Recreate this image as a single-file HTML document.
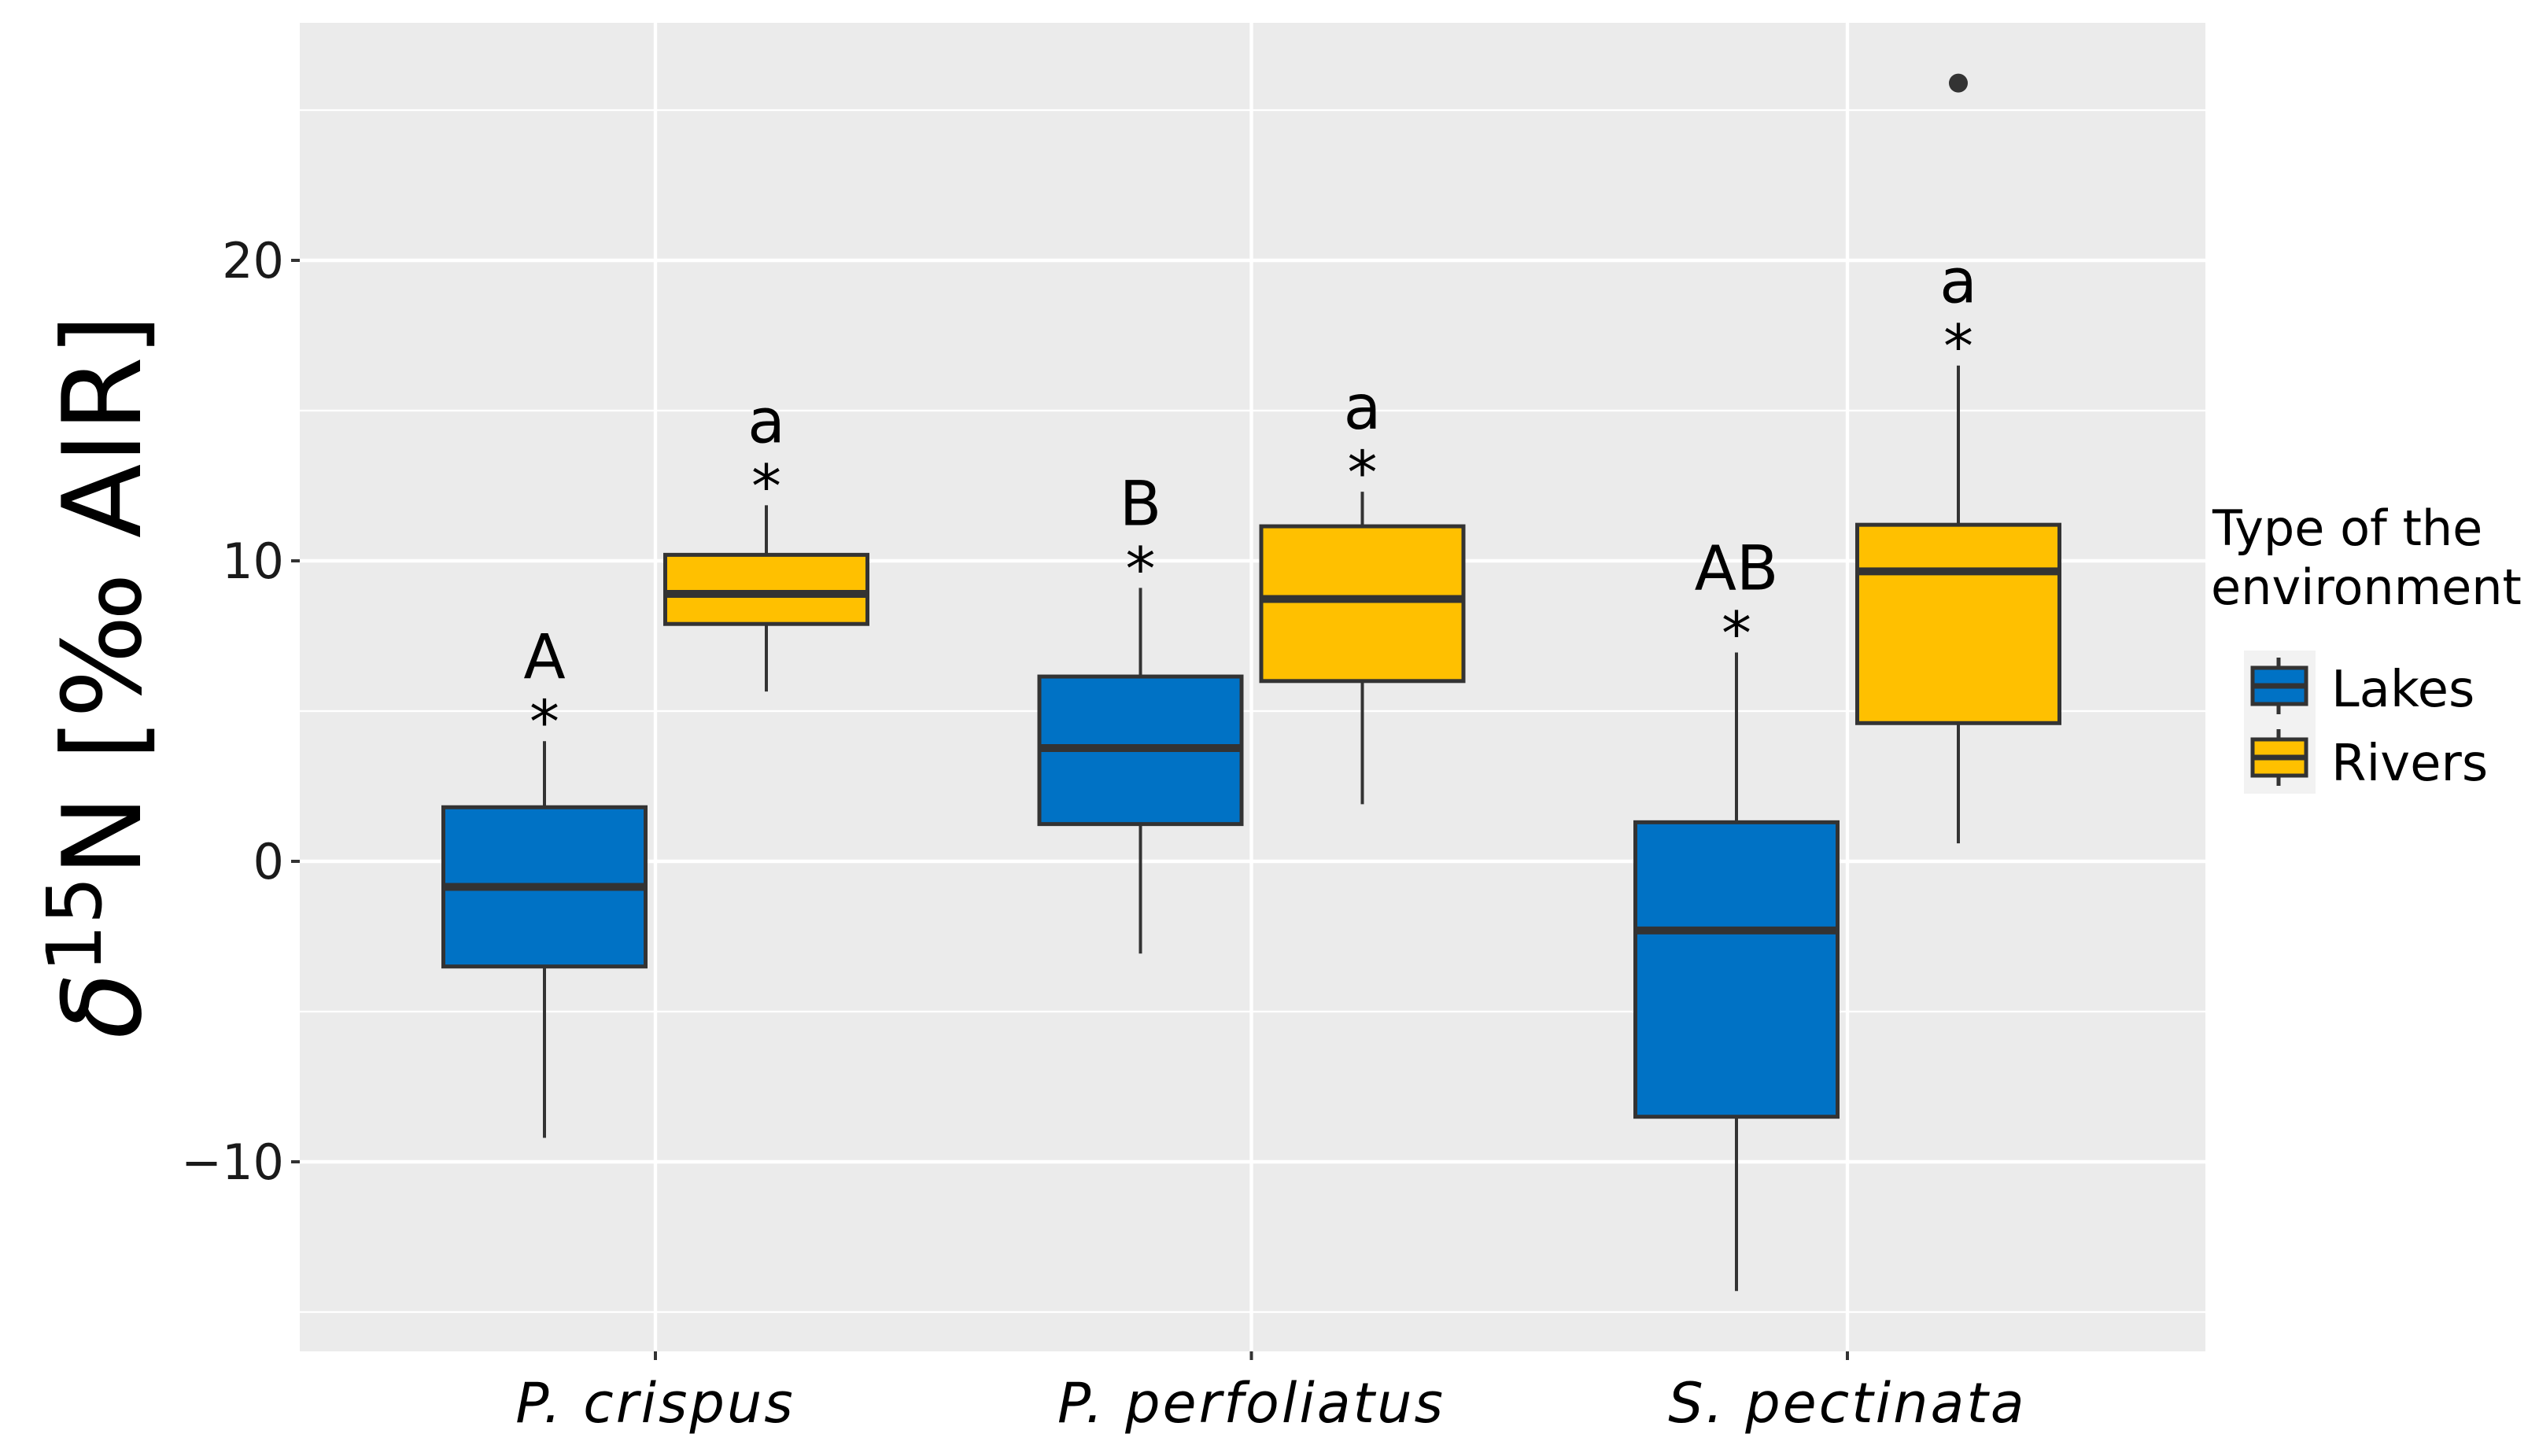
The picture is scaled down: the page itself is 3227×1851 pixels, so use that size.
<!DOCTYPE html>
<html><head><meta charset="utf-8"><style>
html,body{margin:0;padding:0;background:#fff}
svg{display:block;font-family:"DejaVu Sans","Liberation Sans",sans-serif}
</style></head><body>
<svg id="chart" width="3227" height="1851" viewBox="0 0 3227 1851" xmlns="http://www.w3.org/2000/svg">
<rect x="0" y="0" width="3227" height="1851" fill="#fff"/>
<rect x="381" y="29" width="2422" height="1689" fill="#EBEBEB"/>
<g id="grid"></g>
<g id="boxes"></g>
<g id="axes"></g>
<text transform="translate(178,860) rotate(-90)" text-anchor="middle" font-size="138" fill="#000"><tspan font-style="italic">δ</tspan><tspan dy="-50" font-size="96">15</tspan><tspan dy="50">N [‰ AIR]</tspan></text>
<g>
<text x="2812" y="693" font-size="62" fill="#000">Type of the</text>
<text x="2810" y="768" font-size="62" fill="#000">environment</text>
<rect x="2852" y="827" width="91" height="182" fill="#F2F2F2"/>
<g>
<line x1="2896" y1="836" x2="2896" y2="908" stroke="#333" stroke-width="5"/>
<rect x="2863" y="849" width="68" height="46" fill="#0072C5" stroke="#333" stroke-width="5"/>
<line x1="2863" y1="872" x2="2931" y2="872" stroke="#333" stroke-width="7"/>
<text x="2963" y="898" font-size="64" fill="#000">Lakes</text>
</g>
<g>
<line x1="2896" y1="927" x2="2896" y2="999" stroke="#333" stroke-width="5"/>
<rect x="2863" y="940" width="68" height="46" fill="#FFC000" stroke="#333" stroke-width="5"/>
<line x1="2863" y1="963" x2="2931" y2="963" stroke="#333" stroke-width="7"/>
<text x="2963" y="992" font-size="64" fill="#000">Rivers</text>
</g>
</g>
</svg>
<script>
const categories = ["P. crispus", "P. perfoliatus", "S. pectinata"];
const groups = ["Lakes", "Rivers"];
const lakesStats = [[-9.2,-3.5,-0.85,1.8,4.0],[-3.07,1.24,3.77,6.15,9.1],[-14.3,-8.5,-2.3,1.3,6.95]];
const riversStats = [[5.65,7.9,8.9,10.2,11.85],[1.9,6.0,8.73,11.15,12.3],[0.6,4.6,9.65,11.2,16.5]];
const riversOutliers = [[],[],[25.9]];
const lakesLetters = ["A","B","AB"];
const riversLetters = ["a","a","a"];
const yTicks = [-10, 0, 10, 20];
const yMinor = [-15, -5, 5, 15, 25];

const NS = "http://www.w3.org/2000/svg";
const P = {l:381, r:2803, t:29, b:1718};
const y = v => 1095 - v*38.2;
const xCat = i => 833 + i*757.5;
const dodge = 141, bw = 257;
function mk(tag, attrs, parent){const e=document.createElementNS(NS,tag);for(const k in attrs)e.setAttribute(k,attrs[k]);parent.appendChild(e);return e;}
const grid=document.getElementById('grid'), boxes=document.getElementById('boxes'), axes=document.getElementById('axes');
yMinor.forEach(v=>{const l=mk('line',{x1:P.l,x2:P.r,y1:y(v),y2:y(v),stroke:'#fff','stroke-width':2.2},grid);

});
yTicks.forEach(v=>{const l=mk('line',{x1:P.l,x2:P.r,y1:y(v),y2:y(v),stroke:'#fff','stroke-width':4.4},grid);


const t=mk('line',{x1:P.l-11,x2:P.l,y1:y(v),y2:y(v),stroke:'#333','stroke-width':4},axes);


const tx=mk('text',{x:P.l-20,y:y(v)+22,'text-anchor':'end','font-size':62,fill:'#1a1a1a'},axes);
tx.textContent=v<0?'\u2212'+Math.abs(v):String(v);

});
categories.forEach((c,i)=>{const l=mk('line',{x1:xCat(i),x2:xCat(i),y1:P.t,y2:P.b,stroke:'#fff','stroke-width':4.4},grid);


const t=mk('line',{x1:xCat(i),x2:xCat(i),y1:P.b,y2:P.b+11,stroke:'#333','stroke-width':4},axes);


const tx=mk('text',{x:xCat(i),y:1808,'text-anchor':'middle','font-size':70,'font-style':'italic','letter-spacing':'3',fill:'#000'},axes);
tx.textContent=c;

});
function drawBox(s,cx,fill,name,letter,outl){
const g=mk('g',{},boxes);


mk('line',{x1:cx,x2:cx,y1:y(s[4]),y2:y(s[3]),stroke:'#333','stroke-width':4},g);
mk('line',{x1:cx,x2:cx,y1:y(s[1]),y2:y(s[0]),stroke:'#333','stroke-width':4},g);
mk('rect',{x:cx-bw/2,y:y(s[3]),width:bw,height:y(s[1])-y(s[3]),fill:fill,stroke:'#333','stroke-width':5},g);
mk('line',{x1:cx-bw/2,x2:cx+bw/2,y1:y(s[2]),y2:y(s[2]),stroke:'#333','stroke-width':10},g);
outl.forEach(o=>{mk('circle',{cx:cx,cy:y(o),r:12,fill:'#333'},g);});
const a=mk('text',{x:cx,y:y(s[4])+2,'text-anchor':'middle','font-size':76,fill:'#000'},g);
a.textContent='*';
const b=mk('text',{x:cx,y:y(s[4])-80,'text-anchor':'middle','font-size':78,fill:'#000'},g);
b.textContent=letter;}
categories.forEach((c,i)=>{
drawBox(lakesStats[i],xCat(i)-dodge,'#0072C5','box-lakes-'+i,lakesLetters[i],[]);
drawBox(riversStats[i],xCat(i)+dodge,'#FFC000','box-rivers-'+i,riversLetters[i],riversOutliers[i]);});
</script>
</body></html>
